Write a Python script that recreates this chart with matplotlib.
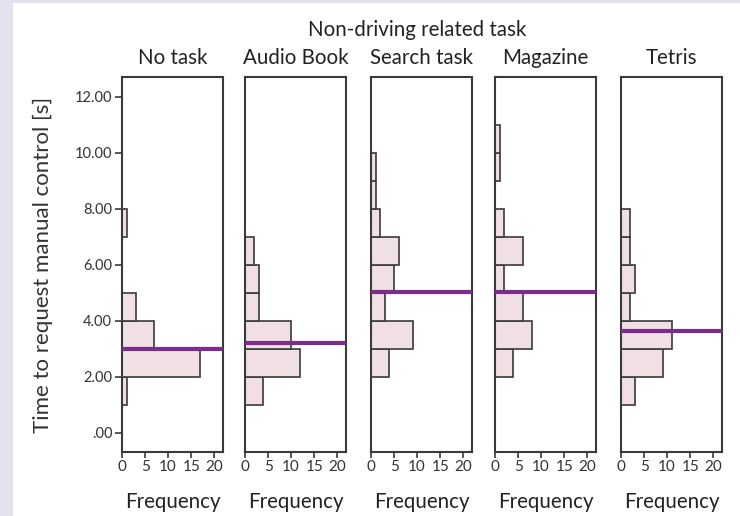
import matplotlib.pyplot as plt
from matplotlib.patches import Rectangle

plt.rcParams['font.family'] = ['Lato', 'DejaVu Sans']

# histogram data: 1-second bins, lower edges
bin_lower = [1, 2, 3, 4, 5, 6, 7, 8, 9, 10]
tasks = ["No task", "Audio Book", "Search task", "Magazine", "Tetris"]
no_task = [1, 17, 7, 3, 0, 0, 1, 0, 0, 0]
audio_book = [4, 12, 10, 3, 3, 2, 0, 0, 0, 0]
search_task = [0, 4, 9, 3, 5, 6, 2, 1, 1, 0]
magazine = [0, 4, 8, 6, 2, 6, 2, 0, 1, 1]
tetris = [3, 9, 11, 2, 3, 2, 2, 0, 0, 0]
medians = [2.98, 3.2, 5.02, 5.02, 3.64]
counts = [no_task, audio_book, search_task, magazine, tetris]

y_ticks = [0, 2, 4, 6, 8, 10, 12]
y_tick_labels = [".00", "2.00", "4.00", "6.00", "8.00", "10.00", "12.00"]
x_ticks = [0, 5, 10, 15, 20]

fig = plt.figure(figsize=(7.4, 5.16), dpi=100)
fig.patch.set_facecolor("#e4e0ee")
fig.patches.append(Rectangle((13 / 740, 0), 1, 1 - 3 / 516, transform=fig.transFigure,
                             facecolor="white", edgecolor="none", zorder=-10))

lefts = [122, 245, 371, 495, 621]
edge = "#3a3a3a"
fs = 14.8
for i, (name, c, med) in enumerate(zip(tasks, counts, medians)):
    ax = fig.add_axes([lefts[i] / 740, 1 - 452 / 516, 101 / 740, 375 / 516])
    ax.set_facecolor("none")
    ys = [b for b, v in zip(bin_lower, c) if v > 0]
    ws = [v for v in c if v > 0]
    ax.barh(ys, ws, height=1.0, align="edge", color="#f0dfe3",
            edgecolor=edge, linewidth=1.2)
    ax.axhline(med, color="#7b2d8c", linewidth=3, zorder=3)
    ax.set_xlim(0, 21.9)
    ax.set_ylim(-0.68, 12.71)
    ax.set_xticks(x_ticks)
    ax.tick_params(axis="x", labelsize=11, colors=edge, labelcolor="#333333",
                   length=4, width=1.2, pad=2)
    for s in ax.spines.values():
        s.set_color(edge)
        s.set_linewidth(1.5)
    if i == 0:
        ax.set_yticks(y_ticks)
        ax.set_yticklabels(y_tick_labels)
        ax.tick_params(axis="y", labelsize=10.5, colors=edge, labelcolor="#333333",
                       length=5, width=1.2, pad=2)
        ax.set_ylabel("Time to request manual control [s]", fontsize=16,
                      color="#333333", labelpad=16)
    else:
        ax.set_yticks([])
    ax.set_title(name, fontsize=fs, color="#222222", pad=9)
    ax.set_xlabel("Frequency", fontsize=fs, color="#222222", labelpad=13)

fig.text(417 / 740, 1 - 30 / 516, "Non-driving related task", ha="center",
         va="center", fontsize=fs, color="#222222")

fig.savefig("out.png", dpi=100)
